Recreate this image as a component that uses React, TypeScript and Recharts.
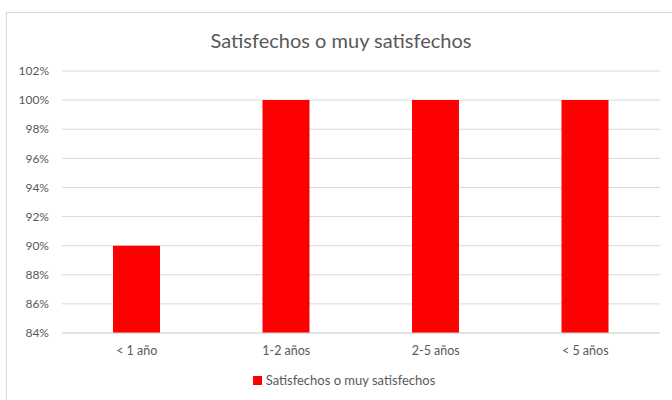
import { BarChart, Bar, XAxis, YAxis, CartesianGrid, Legend } from 'recharts';

const categories = ['< 1 año', '1-2 años', '2-5 años', '< 5 años'];
const satisfied = [90, 100, 100, 100];
const yTicks = [84, 86, 88, 90, 92, 94, 96, 98, 100, 102];

const data = categories.map((name, i) => ({ name, value: satisfied[i] }));

const font = 'Lato, "Open Sans", sans-serif';
const textGray = '#595959';

export default function App() {
  return (
    <div style={{ position: 'absolute', left: 0, top: 0, width: 672, height: 400, overflow: 'hidden', background: '#fff', fontFamily: font }}>
      <div style={{ position: 'absolute', left: 6, top: 12, width: 700, height: 420, border: '1px solid #d9d9d9', boxSizing: 'border-box' }} />
      <div style={{ position: 'absolute', left: 0, top: 28, width: 682, textAlign: 'center', fontSize: 20, color: textGray }}>
        Satisfechos o muy satisfechos
      </div>
      <div style={{ position: 'absolute', left: 0, top: 0 }}>
        <BarChart width={672} height={400} data={data} margin={{ top: 71, right: 12, left: 0, bottom: 18 }}>
          <CartesianGrid vertical={false} stroke="#d9d9d9" />
          <XAxis
            dataKey="name"
            tickLine={false}
            axisLine={{ stroke: '#d9d9d9' }}
            tickSize={0}
            tickMargin={13}
            tick={{ fill: textGray, fontSize: 12.5, fontFamily: font }}
          />
          <YAxis
            width={62}
            domain={[84, 102]}
            ticks={yTicks}
            allowDataOverflow
            tickFormatter={(v) => `${v}%`}
            tickLine={false}
            axisLine={false}
            tickSize={0}
            tickMargin={13}
            tick={{ fill: textGray, fontSize: 12, fontFamily: font }}
          />
          <Legend
            verticalAlign="bottom"
            iconType="square"
            iconSize={9}
            formatter={(v) => <span style={{ color: textGray, fontSize: 13, fontFamily: font }}>{v}</span>}
            wrapperStyle={{ left: 13, width: 672, bottom: 12 }}
          />
          <Bar dataKey="value" name="Satisfechos o muy satisfechos" fill="#ff0000" barSize={47} isAnimationActive={false} />
        </BarChart>
      </div>
    </div>
  );
}
